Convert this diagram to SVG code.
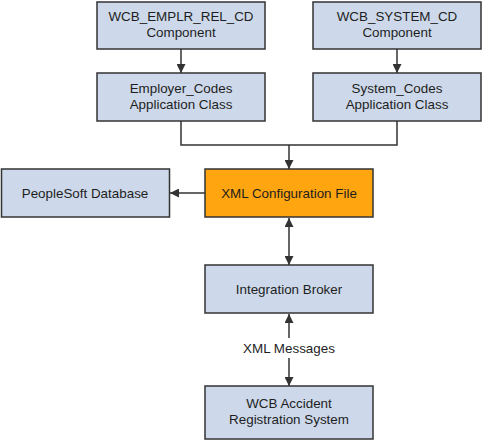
<svg xmlns="http://www.w3.org/2000/svg" width="483" height="441" viewBox="0 0 483 441">
<defs>
<style>
.box{fill:#cdd9ea;stroke:#333;stroke-width:1.5}
.hot{fill:#ffa510;stroke:#333;stroke-width:1.5}
text{font-family:"Liberation Sans",Arial,sans-serif;font-size:13.4px;fill:#1e1e1e;text-anchor:middle}
.ln{fill:none;stroke:#333;stroke-width:1.5}
</style>
<marker id="ah" viewBox="0 0 10 10" refX="10" refY="5" markerWidth="6" markerHeight="6" markerUnits="strokeWidth" orient="auto-start-reverse">
<path d="M0,0 L10,5 L0,10 z" fill="#333"/>
</marker>
</defs>
<rect width="483" height="441" fill="#fff"/>
<g id="connectors">
<line class="ln" x1="181" y1="49" x2="181" y2="73" marker-end="url(#ah)"/>
<line class="ln" x1="397" y1="49" x2="397" y2="73" marker-end="url(#ah)"/>
<polyline class="ln" points="181,121 181,145 397,145 397,121"/>
<line class="ln" x1="289" y1="145" x2="289" y2="169" marker-end="url(#ah)"/>
<line class="ln" x1="205" y1="193" x2="170" y2="193" marker-end="url(#ah)"/>
<line class="ln" x1="289" y1="218" x2="289" y2="265" marker-start="url(#ah)" marker-end="url(#ah)"/>
<line class="ln" x1="289" y1="314" x2="289" y2="386" marker-start="url(#ah)" marker-end="url(#ah)"/>
<rect x="238" y="338" width="102" height="20" fill="#fff"/>
<text x="289" y="353">XML Messages</text>
</g>
<g id="wcb_emplr"><rect class="box" x="97" y="2" width="168" height="47"/><text x="181" y="21">WCB_EMPLR_REL_CD</text><text x="181" y="37">Component</text></g>
<g id="wcb_system"><rect class="box" x="313" y="2" width="168" height="47"/><text x="397" y="21">WCB_SYSTEM_CD</text><text x="397" y="37">Component</text></g>
<g id="employer_codes"><rect class="box" x="97" y="73" width="168" height="48"/><text x="181" y="93">Employer_Codes</text><text x="181" y="109">Application Class</text></g>
<g id="system_codes"><rect class="box" x="313" y="73" width="168" height="48"/><text x="397" y="93">System_Codes</text><text x="397" y="109">Application Class</text></g>
<g id="xml_config"><rect class="hot" x="205" y="169" width="168" height="48"/><text x="289" y="198">XML Configuration File</text></g>
<g id="peoplesoft_db"><rect class="box" x="1.5" y="169" width="168" height="48"/><text x="85" y="198">PeopleSoft Database</text></g>
<g id="integration_broker"><rect class="box" x="205" y="265" width="168" height="48"/><text x="289" y="294">Integration Broker</text></g>
<g id="wcb_accident"><rect class="box" x="205" y="386" width="168" height="53"/><text x="289" y="408">WCB Accident</text><text x="289" y="424">Registration System</text></g>
</svg>
